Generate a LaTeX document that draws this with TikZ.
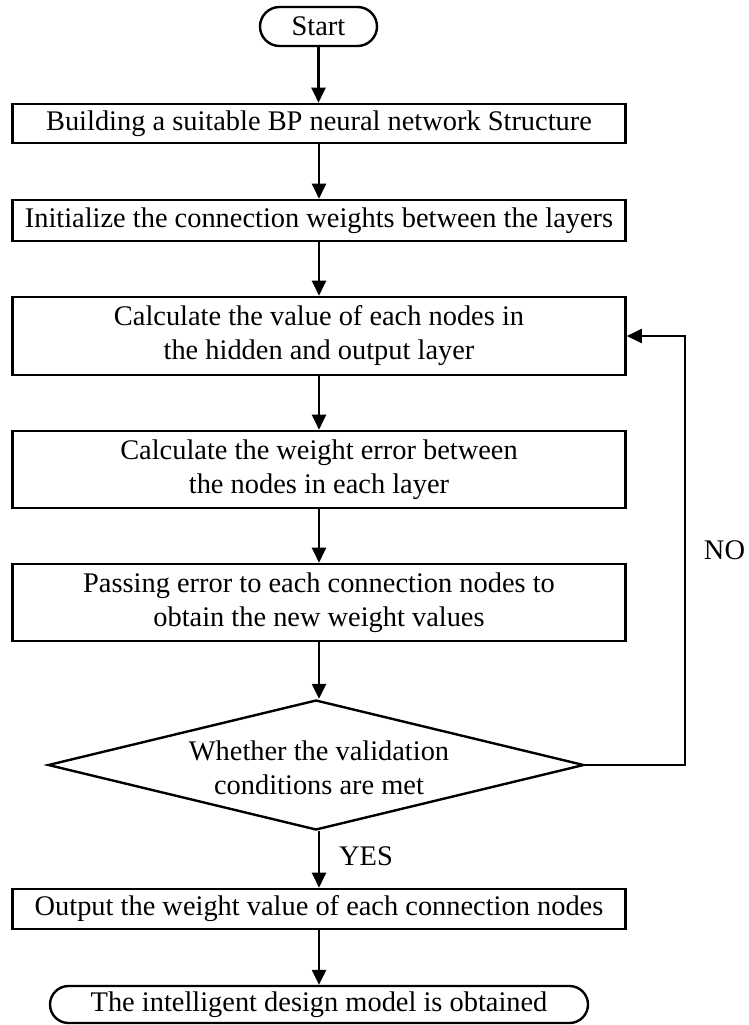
\documentclass[tikz,border=0pt]{standalone}
\usepackage{fontspec}
\setmainfont{Liberation Serif}
\usetikzlibrary{arrows.meta,shapes.geometric,shapes.misc}
\begin{document}
\begin{tikzpicture}[x=1pt,y=1pt,
  every node/.style={font=\fontsize{28.4}{34}\selectfont},
  procbox/.style={draw,line width=2.6pt,rectangle,minimum width=613pt,inner sep=0pt,align=center},
  termbox/.style={draw,line width=2.4pt,rounded rectangle,inner sep=0pt},
  decbox/.style={draw,line width=2.4pt,diamond,inner sep=0pt,minimum width=536pt,minimum height=130pt},
  flowarrow/.style={line width=2.4pt,-{Triangle[length=15pt,width=14pt]}},
  plainlabel/.style={inner sep=0pt}
]
\useasboundingbox (0,0) rectangle (748,-1025);

\node[termbox,minimum width=117pt,minimum height=39pt] (start) at (318.5,-26.5) {Start};
\node[procbox,minimum height=39pt] (b1) at (319,-123.5) {Building a suitable BP neural network Structure};
\node[procbox,minimum height=41pt] (b2) at (319,-220.5) {Initialize the connection weights between the layers};
\node[procbox,minimum height=78pt] (b3) at (319,-336) {Calculate the value of each nodes in\\the hidden and output layer};
\node[procbox,minimum height=77pt] (b4) at (319,-469.5) {Calculate the weight error between\\the nodes in each layer};
\node[procbox,minimum height=77pt] (b5) at (319,-602.5) {Passing error to each connection nodes to\\obtain the new weight values};
\node[decbox] (dec) at (316,-765) {};
\node[plainlabel,align=center] (dectext) at (319,-768) {Whether the validation\\conditions are met};
\node[procbox,minimum height=40pt] (b6) at (319,-909) {Output the weight value of each connection nodes};
\node[termbox,minimum width=538pt,minimum height=37pt] (end) at (319,-1004.5) {The intelligent design model is obtained};

\node[plainlabel] (yes) at (366,-856) {YES};
\node[plainlabel] (no) at (724.5,-550) {NO};

\coordinate (loopa) at (685,-765);
\coordinate (loopb) at (685,-336);

\draw[flowarrow] (start.south) -- (start.south |- b1.north);
\draw[flowarrow] (b1.south) -- (b2.north);
\draw[flowarrow] (b2.south) -- (b3.north);
\draw[flowarrow] (b3.south) -- (b4.north);
\draw[flowarrow] (b4.south) -- (b5.north);
\draw[flowarrow] (b5.south) -- (b5.south |- dec.north);
\draw[flowarrow] (b5.south |- dec.south) -- (b6.north);
\draw[flowarrow] (b6.south) -- (end.north);
\draw[flowarrow] (dec.east) -- (loopa) -- (loopb) -- (b3.east);
\end{tikzpicture}
\end{document}
